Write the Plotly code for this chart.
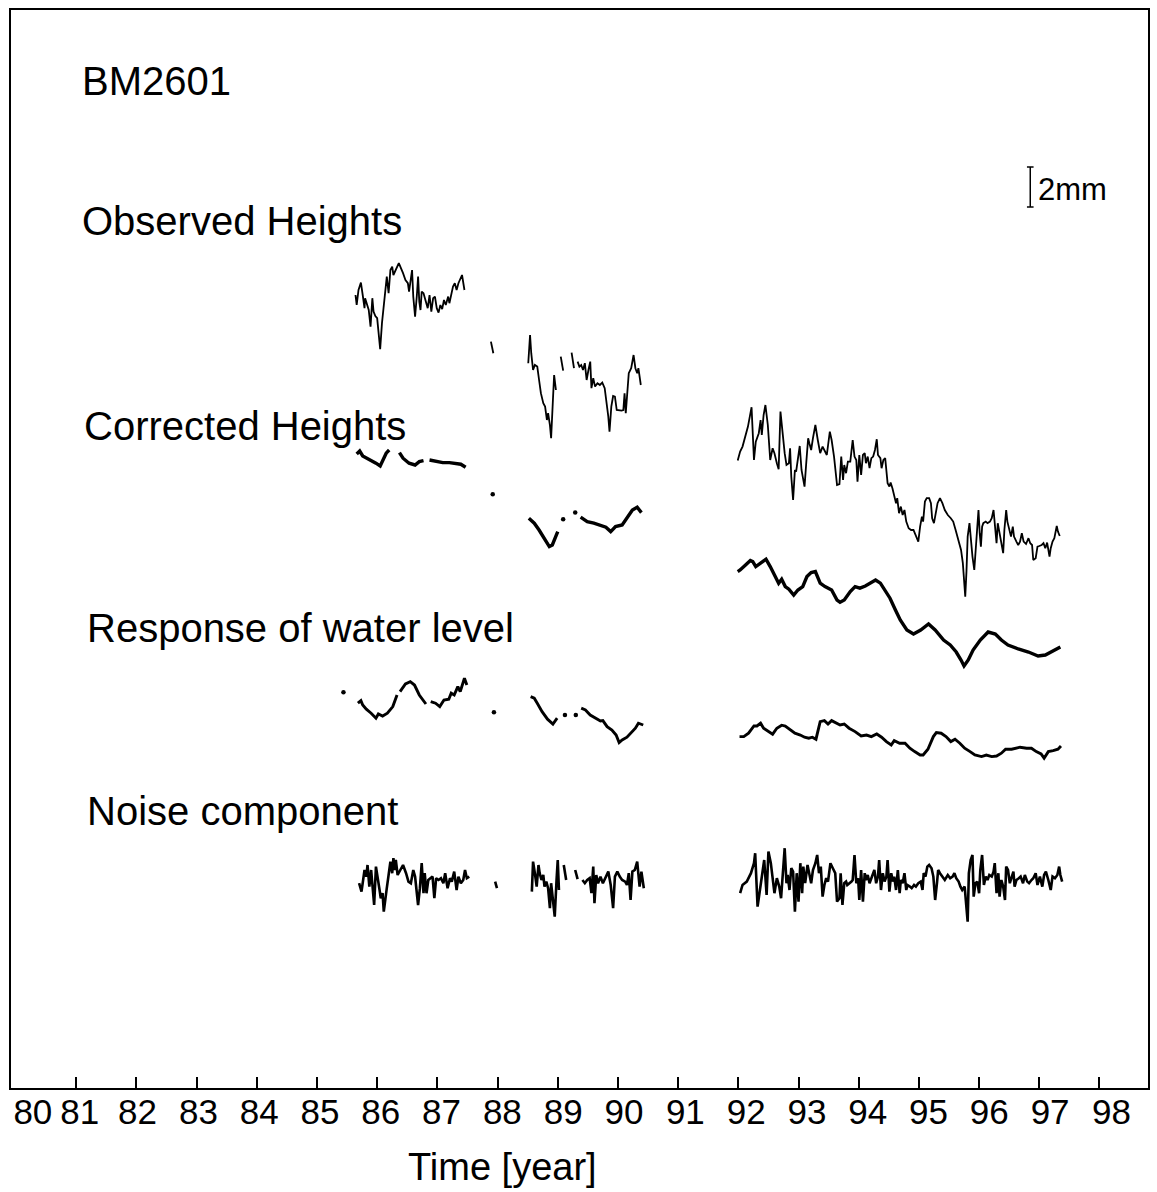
import plotly.graph_objects as go

# ---------------- data (years, mm; series are vertically offset as in the figure) ----------------
TICK_LABELS = ["80", "81", "82", "83", "84", "85", "86", "87", "88", "89",
               "90", "91", "92", "93", "94", "95", "96", "97", "98"]
SERIES_NAMES = ["Observed Heights", "Corrected Heights", "Response of water level", "Noise component"]
STATION = "BM2601"
SCALE_BAR_MM = 2.0

# Observed heights
OBS_T1 = [85.64, 85.66, 85.69, 85.73, 85.76, 85.79, 85.80, 85.83, 85.86, 85.89, 85.92, 85.94, 85.97, 86.00, 86.02,
          86.05, 86.08, 86.11, 86.14, 86.16, 86.19, 86.22, 86.25, 86.27, 86.36, 86.40, 86.43, 86.47, 86.51, 86.53,
          86.56, 86.58, 86.60, 86.63, 86.66, 86.68, 86.70, 86.72, 86.74, 86.77, 86.84, 86.87, 86.90, 86.93, 86.96,
          86.99, 87.02, 87.05, 87.08, 87.11, 87.14, 87.18, 87.20, 87.24, 87.26, 87.29, 87.32, 87.35, 87.37, 87.41, 87.45]
OBS_V1 = [39.6, 39.1, 39.85, 40.22, 39.6, 38.94, 39.44, 39.19, 38.85, 38.02, 39.44, 38.77, 38.55, 38.44, 37.85,
          36.89, 38.19, 39.1, 40.02, 40.52, 39.69, 40.85, 41.02, 40.6, 41.19, 40.94, 40.69, 40.35, 40.19, 39.77,
          40.52, 40.85, 39.52, 38.52, 39.6, 40.52, 39.27, 38.85, 39.77, 39.69, 38.94, 39.6, 38.77, 39.44, 39.52,
          38.94, 38.72, 39.1, 38.89, 39.35, 39.1, 39.52, 39.19, 39.85, 40.02, 40.19, 39.85, 40.19, 40.35, 40.6, 39.85]
OBS_T2 = [87.89, 87.93]
OBS_V2 = [37.27, 36.69]
OBS_T3 = [88.51, 88.54, 88.56, 88.59, 88.62, 88.66, 88.69, 88.72, 88.76, 88.79, 88.82, 88.84, 88.87, 88.89, 88.92,
          88.94, 88.97]
OBS_V3 = [36.19, 37.6, 36.69, 35.85, 36.1, 36.02, 35.35, 34.69, 34.19, 34.02, 33.35, 33.69, 33.1, 32.44, 34.35,
          35.6, 34.85]
OBS_T4 = [89.05, 89.09]
OBS_V4 = [36.52, 35.82]
OBS_T5 = [89.23, 89.27]
OBS_V5 = [36.72, 35.94]
OBS_T6 = [89.33, 89.36, 89.39, 89.42, 89.45, 89.48, 89.51, 89.54, 89.56, 89.59, 89.62, 89.66, 89.70, 89.74, 89.78,
          89.81, 89.84, 89.86, 89.89, 89.92, 89.95, 89.98, 90.02, 90.06, 90.09, 90.11, 90.13, 90.15, 90.18, 90.22,
          90.24, 90.26, 90.29, 90.32, 90.34, 90.38]
OBS_V6 = [36.27, 36.02, 36.1, 35.85, 36.19, 35.35, 35.85, 36.27, 34.94, 35.44, 35.02, 35.19, 35.1, 35.22, 34.94,
          34.35, 33.52, 32.77, 34.02, 34.55, 34.52, 33.85, 33.82, 33.82, 33.85, 34.69, 33.69, 34.6, 35.69, 35.94,
          36.19, 36.6, 35.94, 35.69, 35.94, 35.1]
OBS_T7 = [91.99, 92.03, 92.07, 92.12, 92.16, 92.22, 92.26, 92.29, 92.34, 92.37,
          92.39, 92.42, 92.45, 92.49, 92.53, 92.57, 92.60, 92.64, 92.67, 92.70,
          92.74, 92.77, 92.80, 92.84, 92.86, 92.88, 92.91, 92.94, 92.96, 92.99,
          93.02, 93.05, 93.07, 93.10, 93.13, 93.16, 93.18, 93.21, 93.24, 93.28,
          93.32, 93.36, 93.40, 93.43, 93.47, 93.52, 93.55, 93.59, 93.64, 93.68,
          93.71, 93.74, 93.76, 93.79, 93.82, 93.86, 93.90, 93.93, 93.96, 93.98,
          94.01, 94.04, 94.07, 94.10, 94.12, 94.15, 94.18, 94.21, 94.24, 94.27,
          94.30, 94.32, 94.36, 94.38, 94.41, 94.44, 94.46, 94.48, 94.51, 94.53,
          94.56, 94.59, 94.62, 94.64, 94.67, 94.70, 94.73, 94.76, 94.79, 94.83,
          94.87, 94.91, 94.96, 94.99, 95.02, 95.05, 95.07, 95.10, 95.13, 95.17,
          95.20, 95.22, 95.25, 95.28, 95.31, 95.35, 95.39, 95.43, 95.48, 95.53,
          95.57, 95.61, 95.64, 95.68, 95.70, 95.73, 95.75, 95.77, 95.79, 95.81,
          95.84, 95.86, 95.89, 95.92, 95.94, 95.96, 95.99, 96.01, 96.03, 96.05,
          96.07, 96.11, 96.14, 96.18, 96.21, 96.24, 96.26, 96.29, 96.31, 96.34,
          96.37, 96.40, 96.42, 96.45, 96.47, 96.50, 96.53, 96.56, 96.58, 96.62,
          96.65, 96.68, 96.71, 96.74, 96.78, 96.82, 96.85, 96.88, 96.90, 96.94,
          96.97, 97.00, 97.04, 97.07, 97.10, 97.13, 97.15, 97.17, 97.19, 97.22,
          97.25, 97.27, 97.29, 97.31, 97.34]
OBS_V7 = [31.32, 31.77, 32.02, 32.52, 33.02, 33.99, 31.35, 32.27, 32.69, 33.35,
          32.6, 33.6, 34.1, 33.1, 31.35, 31.94, 31.69, 31.19, 30.89, 33.77,
          32.52, 31.69, 31.1, 31.19, 31.94, 30.52, 29.35, 30.85, 30.77, 31.35,
          32.05, 30.85, 30.52, 30.02, 31.27, 32.44, 32.19, 31.85, 32.44, 33.1,
          32.35, 31.69, 32.02, 31.85, 31.6, 32.77, 32.35, 31.52, 30.1, 30.14,
          31.52, 30.35, 31.1, 30.69, 31.27, 31.27, 32.35, 31.52, 31.35, 30.27,
          31.6, 30.6, 31.6, 31.69, 31.19, 31.52, 30.94, 31.44, 31.52, 31.85,
          32.39, 31.6, 31.44, 30.94, 31.35, 31.44, 30.77, 30.19, 30.02, 30.22,
          29.94, 29.6, 29.19, 29.44, 28.69, 29.02, 28.6, 28.85, 28.27, 27.94,
          27.85, 27.85, 27.52, 27.27, 28.02, 28.52, 28.27, 29.27, 29.44, 29.44,
          29.19, 28.44, 28.19, 28.77, 29.19, 29.44, 29.19, 28.85, 28.6, 28.44,
          28.27, 27.85, 27.52, 27.19, 26.85, 26.19, 25.35, 24.52, 25.77, 27.52,
          28.19, 27.35, 26.52, 25.85, 26.69, 27.52, 28.85, 27.69, 27.02, 28.02,
          28.19, 28.27, 28.19, 28.27, 28.44, 28.85, 28.02, 27.19, 28.19, 27.69,
          27.35, 26.69, 27.85, 28.85, 28.27, 27.85, 27.52, 28.02, 27.52, 27.27,
          27.1, 27.27, 27.69, 27.27, 27.15, 27.44, 27.19, 27.1, 26.35, 26.44,
          27.02, 27.05, 27.1, 27.19, 26.94, 27.22, 26.85, 26.52, 26.94, 27.27,
          27.44, 27.77, 28.05, 27.77, 27.55]

# Corrected heights
CORR_T1 = [85.66, 85.71, 85.76, 85.87, 85.98, 86.05, 86.09, 86.15, 86.20]
CORR_V1 = [31.65, 31.8, 31.55, 31.39, 31.19, 31.05, 31.35, 31.69, 31.85]
CORR_T2 = [86.37, 86.43, 86.53, 86.63, 86.70, 86.77]
CORR_V2 = [31.72, 31.44, 31.19, 31.1, 31.27, 31.32]
CORR_T3 = [86.87, 86.98, 87.09, 87.20, 87.31, 87.39, 87.47]
CORR_V3 = [31.35, 31.27, 31.22, 31.22, 31.19, 31.14, 30.99]
CORR_T4 = [88.52, 88.61, 88.69, 88.77, 88.86, 88.91, 88.97, 89.00]
CORR_V4 = [28.44, 28.19, 27.85, 27.44, 27.02, 27.1, 27.52, 27.77]
CORR_T5 = [89.38, 89.49, 89.60, 89.71, 89.80, 89.88, 89.96, 90.07, 90.15, 90.24, 90.32, 90.39]
CORR_V5 = [28.49, 28.27, 28.19, 28.1, 27.99, 27.77, 28.02, 28.1, 28.44, 28.85, 28.99, 28.72]
CORR_T6 = [91.99, 92.03, 92.12, 92.20, 92.24, 92.29, 92.37, 92.46, 92.53, 92.61,
           92.67, 92.72, 92.78, 92.84, 92.92, 92.99, 93.07, 93.14, 93.21, 93.28,
           93.36, 93.44, 93.55, 93.64, 93.69, 93.76, 93.86, 93.94, 94.02, 94.11,
           94.19, 94.28, 94.36, 94.44, 94.52, 94.61, 94.69, 94.80, 94.91, 95.03,
           95.16, 95.27, 95.41, 95.52, 95.62, 95.70, 95.75, 95.82, 95.90, 96.02,
           96.15, 96.27, 96.37, 96.48, 96.65, 96.82, 96.98, 97.10, 97.22, 97.35]
CORR_V6 = [25.77, 25.85, 26.1, 26.32, 26.27, 26.02, 26.19, 26.39, 26.02, 25.52,
           25.19, 25.39, 25.02, 24.89, 24.6, 24.85, 25.02, 25.52, 25.72, 25.77,
           25.19, 25.02, 24.85, 24.35, 24.24, 24.35, 24.77, 25.02, 24.94, 25.05,
           25.19, 25.35, 25.19, 24.85, 24.44, 23.85, 23.35, 22.85, 22.65, 22.85,
           23.15, 22.85, 22.35, 22.1, 21.75, 21.35, 21.05, 21.35, 21.85, 22.35,
           22.75, 22.65, 22.35, 22.1, 21.9, 21.75, 21.55, 21.6, 21.8, 22.0]
CORR_DOT_T = [87.92, 89.09, 89.29]
CORR_DOT_V = [29.64, 28.39, 28.72]

# Response of water level
RESP_T1 = [85.68, 85.73, 85.76, 85.82, 85.90, 85.98, 86.02, 86.09, 86.17, 86.26, 86.33]
RESP_V1 = [19.19, 19.32, 19.1, 18.89, 18.69, 18.44, 18.65, 18.55, 18.69, 19.02, 19.6]
RESP_T2 = [86.38, 86.47, 86.55, 86.62, 86.70, 86.81]
RESP_V2 = [19.77, 20.15, 20.27, 20.1, 19.6, 19.15]
RESP_T3 = [86.89, 86.97, 87.04, 87.11, 87.19, 87.23, 87.28, 87.34, 87.38, 87.42, 87.45, 87.49]
RESP_V3 = [19.27, 19.19, 19.02, 19.35, 19.39, 19.69, 19.6, 20.02, 19.77, 20.19, 20.44, 20.1]
RESP_T4 = [88.55, 88.61, 88.66, 88.74, 88.83, 88.92, 88.99]
RESP_V4 = [19.52, 19.44, 19.19, 18.77, 18.39, 18.15, 18.44]
RESP_T5 = [89.39, 89.46, 89.54, 89.63, 89.71, 89.75, 89.82, 89.90, 89.97, 90.02, 90.07, 90.15, 90.24, 90.29,
           90.34, 90.42]
RESP_V5 = [18.94, 18.85, 18.6, 18.44, 18.3, 18.32, 18.02, 17.85, 17.6, 17.22, 17.35, 17.49, 17.77, 17.94,
           18.19, 18.1]
RESP_T6 = [92.02, 92.09, 92.17, 92.26, 92.31, 92.37, 92.42, 92.50, 92.57, 92.64,
           92.72, 92.78, 92.86, 92.94, 93.03, 93.10, 93.17, 93.23, 93.29, 93.32,
           93.36, 93.43, 93.49, 93.55, 93.62, 93.69, 93.76, 93.84, 93.94, 94.04,
           94.13, 94.21, 94.30, 94.38, 94.46, 94.54, 94.59, 94.68, 94.77, 94.85,
           94.93, 95.02, 95.07, 95.15, 95.24, 95.29, 95.37, 95.45, 95.53, 95.60,
           95.68, 95.76, 95.85, 95.93, 96.04, 96.12, 96.21, 96.29, 96.37, 96.44,
           96.54, 96.68, 96.79, 96.87, 96.95, 97.03, 97.08, 97.15, 97.23, 97.31, 97.36]
RESP_V6 = [17.52, 17.52, 17.69, 18.05, 18.05, 18.19, 17.94, 17.77, 17.64, 17.94,
           18.09, 18.05, 17.85, 17.69, 17.6, 17.49, 17.44, 17.49, 17.39, 17.85,
           18.27, 18.32, 18.15, 18.32, 18.22, 18.1, 18.15, 17.94, 17.77, 17.55,
           17.6, 17.52, 17.65, 17.49, 17.27, 17.1, 17.32, 17.19, 17.19, 16.94,
           16.77, 16.6, 16.6, 16.89, 17.52, 17.72, 17.69, 17.52, 17.27, 17.39,
           17.19, 16.94, 16.77, 16.6, 16.52, 16.6, 16.52, 16.55, 16.69, 16.89,
           16.89, 16.99, 16.94, 16.94, 16.77, 16.65, 16.44, 16.77, 16.82, 16.89, 17.05]
RESP_DOT_T = [85.44, 87.94, 89.12, 89.30]
RESP_DOT_V = [19.74, 18.74, 18.6, 18.6]

# Noise component
NOI_T1 = [85.70, 85.74, 85.79, 85.82, 85.84, 85.87, 85.90, 85.93, 85.95, 85.98,
          86.01, 86.04, 86.06, 86.09, 86.11, 86.14, 86.16, 86.19, 86.22, 86.25,
          86.27, 86.29, 86.31, 86.34, 86.43, 86.48, 86.52, 86.56, 86.60, 86.63,
          86.65, 86.68, 86.71, 86.74, 86.77, 86.79, 86.82, 86.85, 86.92, 86.95,
          86.98, 87.02, 87.06, 87.10, 87.13, 87.17, 87.21, 87.24, 87.28, 87.32,
          87.35, 87.39, 87.43, 87.46, 87.49, 87.53]
NOI_V1 = [10.19, 9.77, 10.85, 10.52, 11.1, 10.02, 10.85, 9.85, 9.1, 11.02,
          10.52, 9.85, 9.44, 9.69, 8.77, 9.35, 9.94, 10.6, 11.27, 10.69,
          11.44, 10.85, 11.35, 10.6, 11.1, 10.69, 10.27, 10.19, 10.85, 10.52,
          9.94, 9.1, 9.94, 11.19, 9.69, 10.69, 9.69, 10.35, 10.52, 9.44,
          10.44, 10.35, 10.44, 10.19, 10.69, 9.94, 10.44, 10.27, 10.77, 9.85,
          10.52, 10.19, 10.35, 10.85, 10.44, 10.52]
NOI_T2 = [87.96, 87.99]
NOI_V2 = [10.27, 9.94]
NOI_T3 = [88.57, 88.59, 88.62, 88.65, 88.68, 88.70, 88.73, 88.76, 88.78, 88.81, 88.84, 88.87, 88.89, 88.92,
          88.95, 88.98, 89.00, 89.02]
NOI_V3 = [9.77, 11.27, 10.69, 10.02, 11.1, 10.69, 10.35, 10.6, 10.02, 10.27, 9.94, 8.94, 10.19, 9.35,
          8.52, 10.35, 11.35, 9.85]
NOI_T4 = [89.10, 89.14]
NOI_V4 = [11.1, 10.35]
NOI_T5 = [89.29, 89.33]
NOI_V5 = [10.85, 10.39]
NOI_T6 = [89.41, 89.45, 89.49, 89.53, 89.56, 89.59, 89.61, 89.64, 89.67, 89.71, 89.75, 89.80, 89.84, 89.88,
          89.92, 89.95, 89.99, 90.03, 90.07, 90.12, 90.15, 90.18, 90.21, 90.24, 90.28, 90.32, 90.36, 90.39, 90.43]
NOI_V6 = [10.35, 10.19, 10.35, 10.44, 9.69, 11.02, 9.19, 10.6, 10.19, 10.52, 10.19, 10.52, 10.77, 10.1,
          8.94, 10.52, 10.77, 10.52, 10.35, 10.27, 10.1, 10.69, 9.35, 10.77, 10.85, 11.27, 10.02, 10.77, 9.94]
NOI_T7 = [92.03, 92.07, 92.14, 92.21, 92.26, 92.28, 92.32, 92.37, 92.40, 92.43,
          92.47, 92.50, 92.54, 92.57, 92.60, 92.64, 92.68, 92.71, 92.74, 92.77,
          92.80, 92.82, 92.85, 92.88, 92.91, 92.94, 92.97, 93.00, 93.03, 93.06,
          93.08, 93.11, 93.15, 93.18, 93.21, 93.24, 93.28, 93.31, 93.34, 93.37,
          93.40, 93.43, 93.46, 93.49, 93.53, 93.57, 93.61, 93.64, 93.68, 93.70,
          93.73, 93.76, 93.79, 93.81, 93.85, 93.88, 93.90, 93.93, 93.96, 93.99,
          94.01, 94.04, 94.07, 94.10, 94.12, 94.15, 94.18, 94.22, 94.26, 94.29,
          94.32, 94.34, 94.37, 94.40, 94.43, 94.46, 94.48, 94.51, 94.54, 94.57,
          94.59, 94.62, 94.65, 94.68, 94.70, 94.73, 94.76, 94.79, 94.81, 94.85,
          94.88, 94.92, 94.95, 94.99, 95.03, 95.06, 95.08, 95.11, 95.14, 95.17,
          95.21, 95.24, 95.27, 95.30, 95.32, 95.35, 95.39, 95.43, 95.48, 95.52,
          95.56, 95.59, 95.62, 95.66, 95.69, 95.72, 95.76, 95.78, 95.81, 95.83,
          95.86, 95.89, 95.91, 95.94, 95.97, 96.00, 96.02, 96.05, 96.08, 96.11,
          96.14, 96.17, 96.21, 96.24, 96.26, 96.29, 96.32, 96.34, 96.37, 96.40,
          96.43, 96.45, 96.48, 96.51, 96.54, 96.57, 96.59, 96.62, 96.66, 96.69,
          96.73, 96.76, 96.80, 96.83, 96.87, 96.90, 96.94, 96.97, 97.01, 97.05,
          97.08, 97.11, 97.15, 97.19, 97.22, 97.26, 97.30, 97.33, 97.35, 97.38]
NOI_V7 = [9.69, 10.1, 10.27, 10.69, 11.19, 11.69, 9.02, 10.19, 10.69, 11.35,
          9.6, 11.77, 11.19, 10.52, 9.69, 10.44, 10.02, 9.44, 10.77, 11.94,
          10.19, 10.6, 9.85, 10.94, 10.77, 8.77, 10.69, 9.27, 11.19, 9.69,
          11.02, 10.19, 11.1, 10.69, 10.19, 10.85, 11.19, 11.6, 10.69, 11.02,
          9.52, 10.1, 10.44, 10.27, 11.19, 10.94, 10.69, 9.27, 9.44, 10.69,
          9.1, 10.19, 10.27, 10.1, 10.19, 10.27, 10.35, 11.6, 10.19, 10.44,
          9.35, 10.85, 9.27, 10.69, 10.35, 10.6, 10.19, 10.52, 10.85, 10.19,
          10.52, 11.35, 9.85, 10.69, 10.27, 10.52, 11.35, 9.77, 10.69, 10.27,
          10.52, 9.85, 10.85, 9.69, 10.35, 10.19, 10.69, 9.85, 10.1, 10.02,
          9.94, 10.1, 10.02, 10.19, 10.27, 9.85, 10.69, 10.52, 11.02, 11.1,
          10.94, 10.52, 9.35, 10.19, 10.85, 10.69, 10.52, 10.35, 10.6, 10.44,
          10.52, 10.69, 10.44, 10.27, 10.02, 9.85, 10.02, 9.1, 8.27, 10.69,
          11.35, 11.6, 9.52, 10.19, 10.27, 9.69, 10.85, 11.6, 10.1, 10.52,
          10.35, 10.6, 10.52, 10.77, 11.19, 9.69, 10.69, 9.52, 10.35, 10.02,
          9.35, 11.02, 10.85, 10.19, 10.52, 10.77, 10.02, 10.35, 10.44, 10.52,
          10.19, 10.6, 10.27, 10.19, 10.35, 10.44, 10.69, 10.1, 10.52, 10.02,
          10.6, 10.77, 10.35, 9.85, 10.52, 10.44, 10.6, 11.02, 10.6, 10.27]

# ---------------- figure ----------------
FONT = "Liberation Sans, Arial, Helvetica, sans-serif"
X_RANGE = [79.917, 98.806]
Y_RANGE = [-0.05, 53.85]


def joined(ts, vs):
    xs, ys = [], []
    for t, v in zip(ts, vs):
        if xs:
            xs.append(None)
            ys.append(None)
        xs.extend(t)
        ys.extend(v)
    return xs, ys


line_series = [
    ([OBS_T1, OBS_T2, OBS_T3, OBS_T4, OBS_T5, OBS_T6, OBS_T7],
     [OBS_V1, OBS_V2, OBS_V3, OBS_V4, OBS_V5, OBS_V6, OBS_V7], 1.8),
    ([CORR_T1, CORR_T2, CORR_T3, CORR_T4, CORR_T5, CORR_T6],
     [CORR_V1, CORR_V2, CORR_V3, CORR_V4, CORR_V5, CORR_V6], 3.4),
    ([RESP_T1, RESP_T2, RESP_T3, RESP_T4, RESP_T5, RESP_T6],
     [RESP_V1, RESP_V2, RESP_V3, RESP_V4, RESP_V5, RESP_V6], 2.9),
    ([NOI_T1, NOI_T2, NOI_T3, NOI_T4, NOI_T5, NOI_T6, NOI_T7],
     [NOI_V1, NOI_V2, NOI_V3, NOI_V4, NOI_V5, NOI_V6, NOI_V7], 2.6),
]

fig = go.Figure()
for name, (ts, vs, w) in zip(SERIES_NAMES, line_series):
    x, y = joined(ts, vs)
    fig.add_trace(go.Scatter(x=x, y=y, mode="lines", name=name, connectgaps=False,
                             line=dict(color="black", width=w), hoverinfo="skip", showlegend=False))

for dt, dv in [(CORR_DOT_T, CORR_DOT_V), (RESP_DOT_T, RESP_DOT_V)]:
    fig.add_trace(go.Scatter(x=dt, y=dv, mode="markers", marker=dict(color="black", size=4.5),
                             hoverinfo="skip", showlegend=False))

# invisible trace on the label axis so that it is drawn
fig.add_trace(go.Scatter(x=[90], y=[None], xaxis="x2", mode="markers", showlegend=False, hoverinfo="skip"))

# label positions: "80"/"81" squeezed at the left, the rest drifting slightly right of their ticks
LABEL_POS = [80.28, 81.06, 82.02, 83.03, 84.04, 85.05, 86.06, 87.07, 88.08, 89.09,
             90.10, 91.12, 92.13, 93.14, 94.15, 95.16, 96.17, 97.18, 98.20]

annotations = [
    dict(text=STATION, x=81.06, y=50.3, yref="y", xanchor="left", yanchor="middle", font=dict(size=40)),
    dict(text=SERIES_NAMES[0], x=81.06, y=43.3, yref="y", xanchor="left", yanchor="middle", font=dict(size=40)),
    dict(text=SERIES_NAMES[1], x=81.09, y=33.05, yref="y", xanchor="left", yanchor="middle", font=dict(size=40)),
    dict(text=SERIES_NAMES[2], x=81.14, y=22.95, yref="y", xanchor="left", yanchor="middle", font=dict(size=40)),
    dict(text=SERIES_NAMES[3], x=81.14, y=13.8, yref="y", xanchor="left", yanchor="middle", font=dict(size=40)),
    dict(text="2mm", x=96.95, y=44.9, yref="y", xanchor="left", yanchor="middle", font=dict(size=31)),
    dict(text="Time [year]", x=88.09, y=-0.073, yref="paper", xanchor="center", yanchor="middle",
         font=dict(size=38)),
]
for a in annotations:
    a.update(xref="x", showarrow=False)
    a["font"].update(family=FONT, color="black")

bar_x, bar_y0 = 96.85, 44.0
bar_y1 = bar_y0 + SCALE_BAR_MM
shapes = [
    dict(type="line", x0=bar_x, x1=bar_x, y0=bar_y0, y1=bar_y1),
    dict(type="line", x0=bar_x - 0.055, x1=bar_x + 0.055, y0=bar_y0, y1=bar_y0),
    dict(type="line", x0=bar_x - 0.055, x1=bar_x + 0.055, y0=bar_y1, y1=bar_y1),
]
for s in shapes:
    s.update(xref="x", yref="y", line=dict(color="black", width=1.5))

fig.update_layout(
    width=1157, height=1192,
    margin=dict(l=11, r=7, t=10, b=104, pad=0),
    paper_bgcolor="white", plot_bgcolor="white",
    showlegend=False,
    font=dict(family=FONT, color="black"),
    xaxis=dict(range=X_RANGE, tickmode="array", tickvals=list(range(81, 99)),
               ticks="inside", ticklen=11, tickwidth=2, tickcolor="black",
               showticklabels=False, showgrid=False, zeroline=False,
               showline=True, linecolor="black", linewidth=2, mirror=True),
    xaxis2=dict(range=X_RANGE, overlaying="x", anchor="y", side="bottom",
                tickmode="array", tickvals=LABEL_POS, ticktext=TICK_LABELS,
                ticks="", showgrid=False, zeroline=False, showline=False,
                tickfont=dict(size=35, color="black", family=FONT)),
    yaxis=dict(range=Y_RANGE, showticklabels=False, ticks="", showgrid=False, zeroline=False,
               showline=True, linecolor="black", linewidth=2, mirror=True),
    annotations=annotations,
    shapes=shapes,
)

fig.write_html("out.html")
